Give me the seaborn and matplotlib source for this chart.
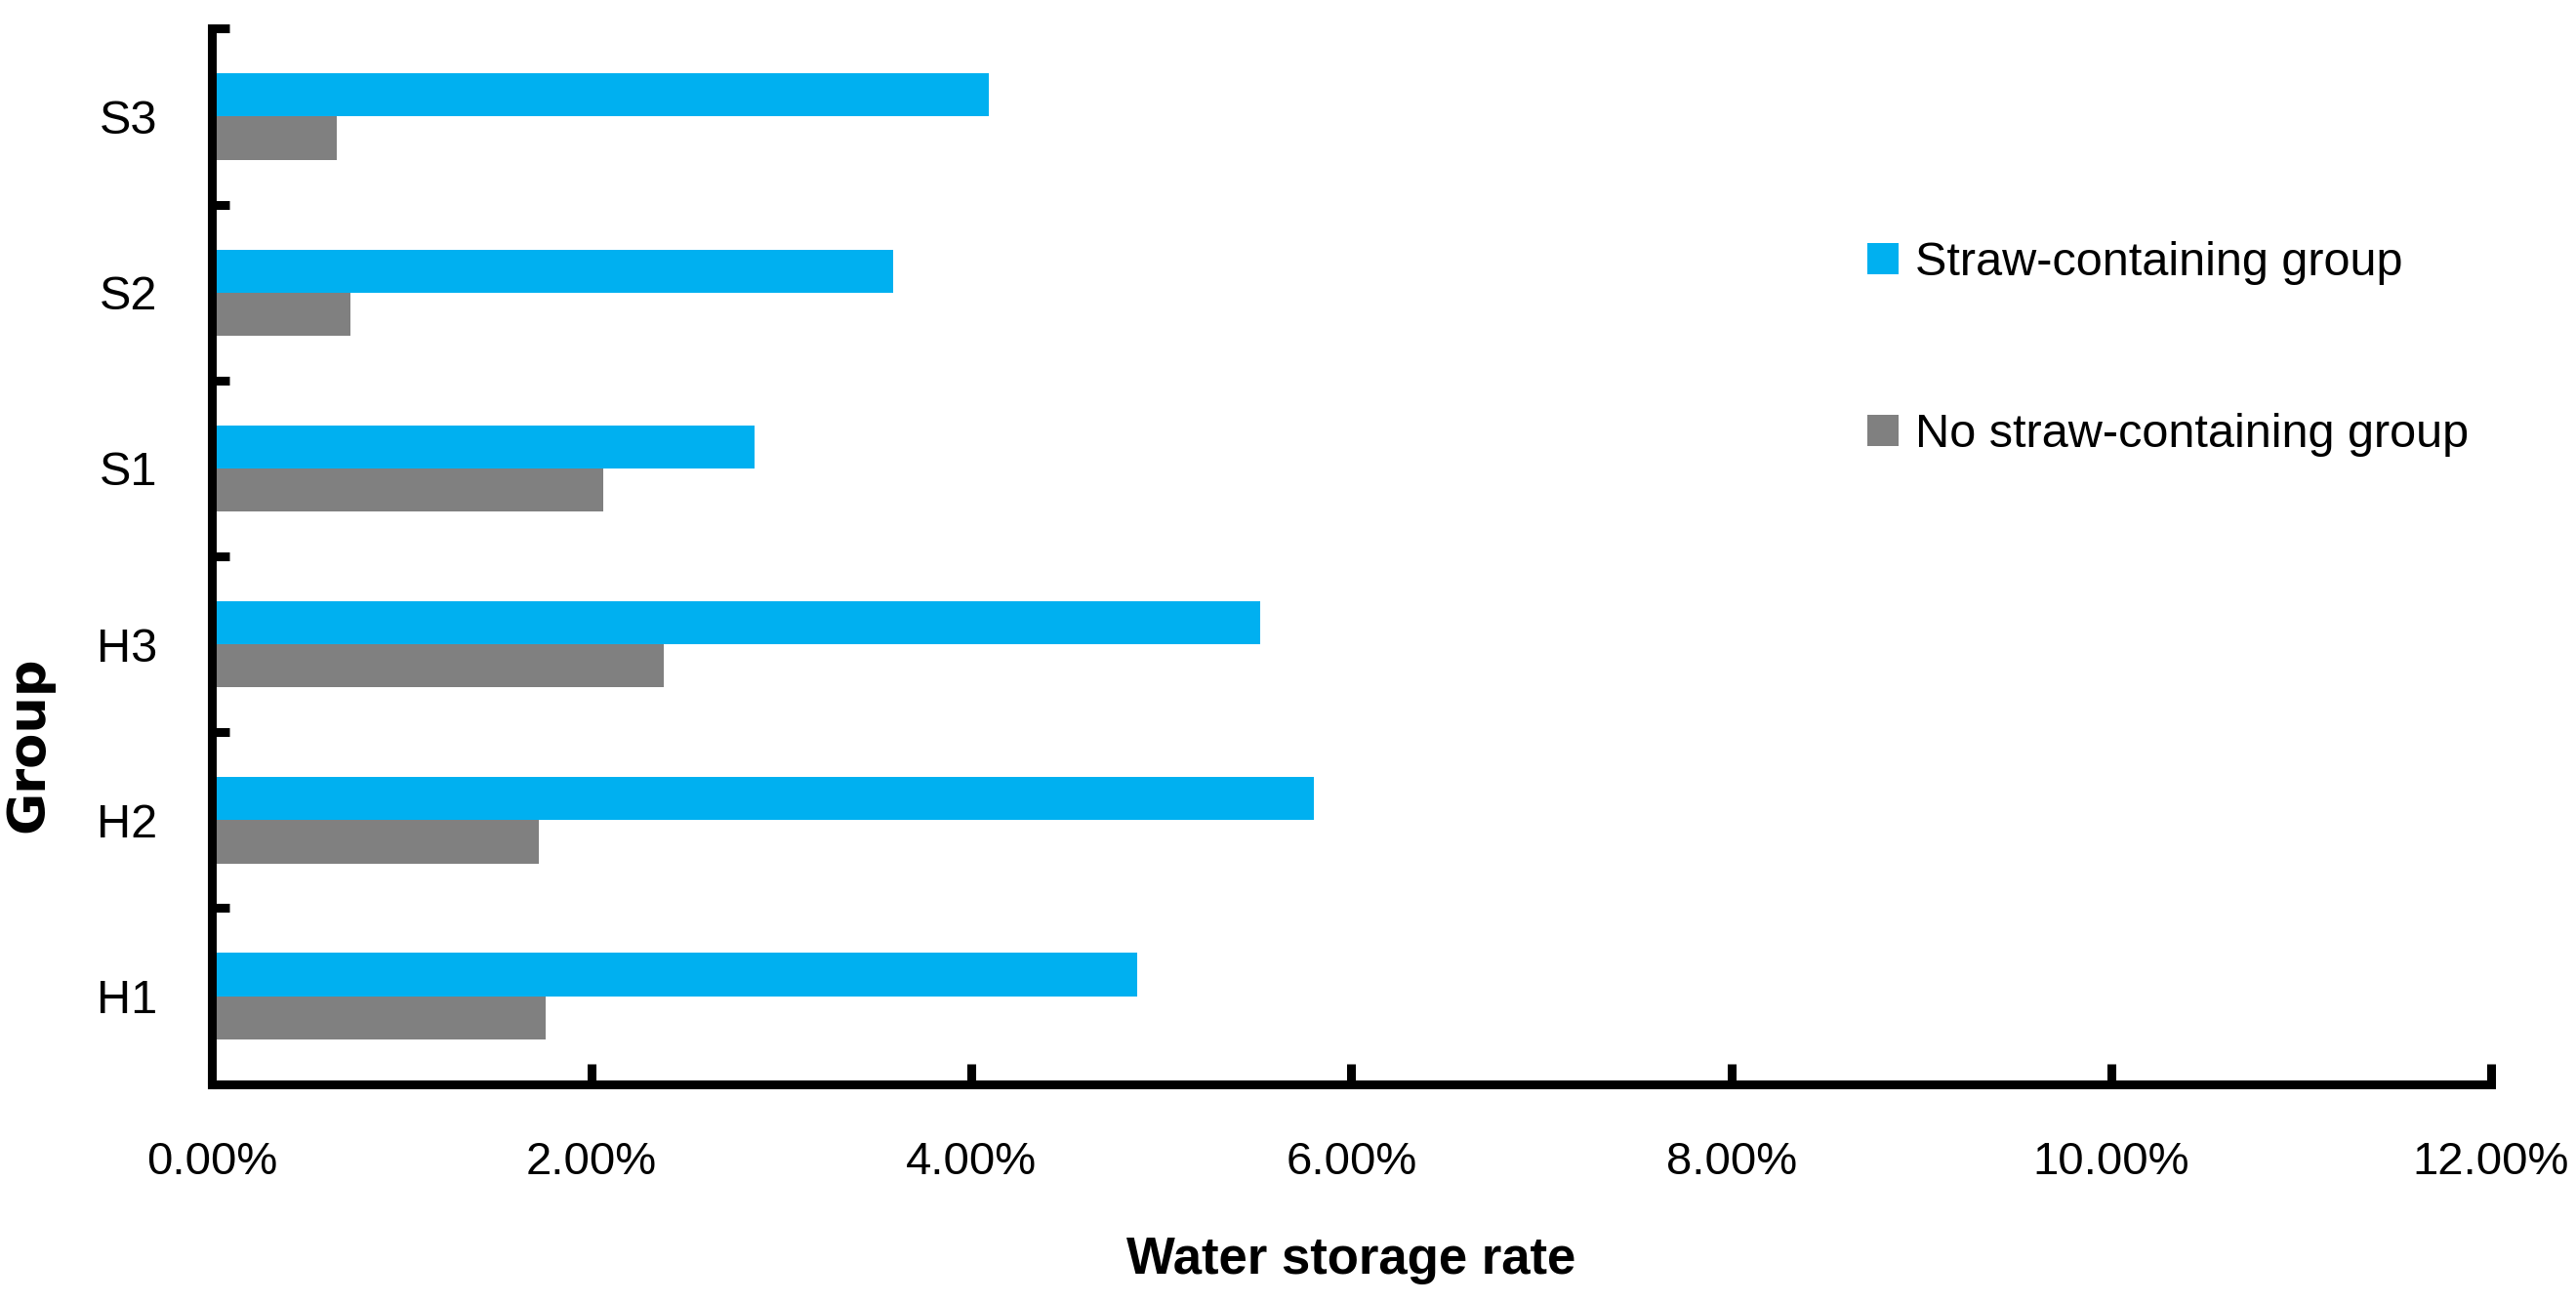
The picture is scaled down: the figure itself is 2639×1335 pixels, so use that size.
import pandas as pd
import matplotlib
matplotlib.use('Agg')
import matplotlib.pyplot as plt
import seaborn as sns
from matplotlib.ticker import PercentFormatter, FixedLocator

# data (percent)
groups = ['S3', 'S2', 'S1', 'H3', 'H2', 'H1']
straw = [4.09, 3.59, 2.86, 5.52, 5.80, 4.87]
no_straw = [0.66, 0.73, 2.06, 2.38, 1.72, 1.76]
series = ['Straw-containing group', 'No straw-containing group']
colors = ['#00B0F0', '#808080']
x_ticks = [0, 2, 4, 6, 8, 10, 12]

df = pd.DataFrame({
    'group': groups * 2,
    'rate': straw + no_straw,
    'series': [series[0]] * len(groups) + [series[1]] * len(groups),
})

sns.set_theme(style='white')
plt.rcParams['font.family'] = ['Liberation Sans', 'DejaVu Sans']
plt.rcParams['text.color'] = 'black'
plt.rcParams['axes.labelcolor'] = 'black'
plt.rcParams['xtick.color'] = 'black'
plt.rcParams['ytick.color'] = 'black'

fig = plt.figure(figsize=(26.39, 13.35), dpi=100)
ax = fig.add_axes([0.0822, 0.168, 0.8848, 0.810])

sns.barplot(data=df, y='group', x='rate', hue='series', order=groups,
            hue_order=series, palette=colors, orient='h', width=0.49,
            saturation=1, linewidth=0, ax=ax)

ax.set_xlim(0, 12)
ax.set_ylim(len(groups) - 0.5, -0.5)
ax.xaxis.set_major_locator(FixedLocator(x_ticks))
ax.xaxis.set_major_formatter(PercentFormatter(xmax=100, decimals=2))

# category labels without marks, marks at category edges
ax.yaxis.set_minor_locator(FixedLocator([i - 0.5 for i in range(len(groups) + 1)]))
ax.tick_params(axis='y', which='major', length=0, pad=40, labelsize=35)
ax.tick_params(axis='y', which='minor', direction='in', length=13, width=6.5, color='black', left=True)
ax.tick_params(axis='x', which='major', direction='in', length=15, width=6.5, color='black',
               pad=42, labelsize=34, bottom=True)

for side in ['top', 'right']:
    ax.spines[side].set_visible(False)
for side in ['left', 'bottom']:
    ax.spines[side].set_color('black')
    ax.spines[side].set_linewidth(6.5)

ax.set_xlabel('Water storage rate', fontsize=38, fontweight='bold', va='center')
ax.xaxis.set_label_coords(0.5, -0.1665)
ax.set_ylabel('Group', fontsize=38, fontweight='bold', va='center', family='DejaVu Sans')
ax.yaxis.set_label_coords(-0.0805, 0.322)

ax.legend(loc='upper left', bbox_to_anchor=(0.7249, 0.815), bbox_transform=fig.transFigure,
          frameon=False, fontsize=35, handlelength=0.65, handleheight=0.65,
          handletextpad=0.35, labelspacing=2.7, borderpad=0, borderaxespad=0)

plt.savefig('out.png', dpi=100)
